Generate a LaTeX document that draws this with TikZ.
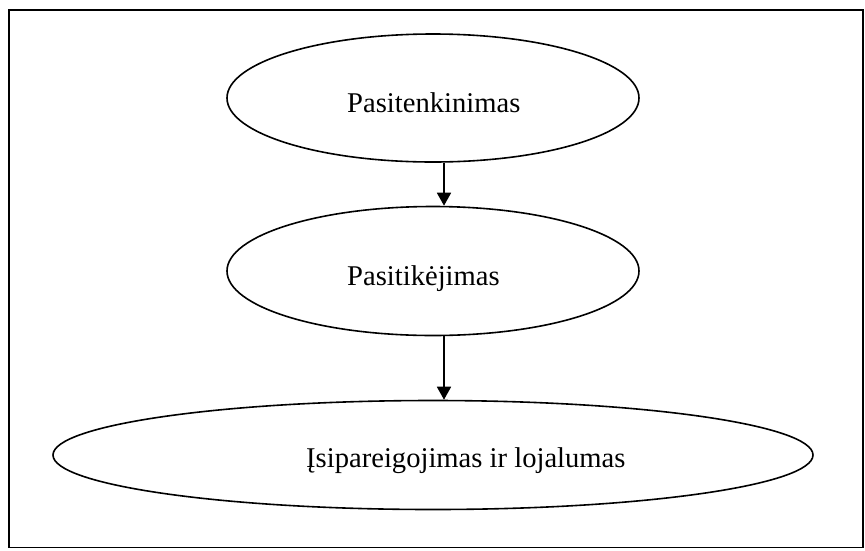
\documentclass[tikz,border=0pt]{standalone}
\usepackage{fontspec}
\setmainfont{Liberation Serif}
\usetikzlibrary{shapes.geometric,arrows.meta}
\begin{document}
\begin{tikzpicture}[x=1pt,y=-1pt,
  oval/.style={draw,ellipse,line width=1.6pt,inner sep=0pt},
  lbl/.style={inner sep=0pt,anchor=base west,font=\fontsize{28.6}{32}\selectfont},
  arr/.style={line width=1.8pt,-{Triangle[length=13pt,width=14pt]}}]
\useasboundingbox (0,0) rectangle (865,550);
\clip (0,0) rectangle (865,550);
\draw[line width=1.6pt] (9,10) rectangle (863,547.5);
\node[oval,minimum width=412pt,minimum height=128pt] (e1) at (433,98) {};
\node[oval,minimum width=412pt,minimum height=129pt] (e2) at (433,271) {};
\node[oval,minimum width=760pt,minimum height=109pt] (e3) at (433,455) {};
\node[lbl] (t1) at (347,112) {Pasitenkinimas};
\node[lbl] (t2) at (347,285) {Pasitikėjimas};
\node[lbl] (t3) at (306,467) {Įsipareigojimas ir lojalumas};
\draw[arr] ([xshift=11pt]e1.south) -- ([xshift=11pt]e2.north);
\draw[arr] ([xshift=11pt]e2.south) -- ([xshift=11pt]e3.north);
\end{tikzpicture}
\end{document}
